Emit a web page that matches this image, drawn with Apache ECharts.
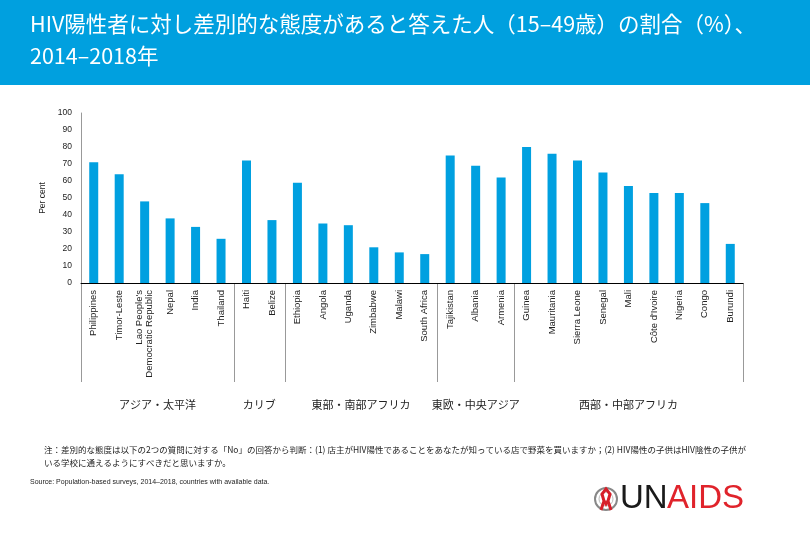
<!DOCTYPE html>
<html>
<head>
<meta charset="utf-8">
<script src="https://cdn.jsdelivr.net/npm/echarts@6/dist/echarts.min.js"></script>
<style>
html,body{margin:0;padding:0;background:#fff;}
#chart{width:810px;height:540px;}
</style>
</head>
<body>
<div id="chart"></div>
<script>
var categories = ["Philippines","Timor-Leste","Lao People's\nDemocratic Republic","Nepal","India","Thailand",
  "Haiti","Belize",
  "Ethiopia","Angola","Uganda","Zimbabwe","Malawi","South Africa",
  "Tajikistan","Albania","Armenia",
  "Guinea","Mauritania","Sierra Leone","Senegal","Mali","Côte d'Ivoire","Nigeria","Congo","Burundi"];
var values = [71,64,48,38,33,26, 72,37, 59,35,34,21,18,17, 75,69,62, 80,76,72,65,57,53,53,47,23];
var groupNames = ["アジア・太平洋","カリブ","東部・南部アフリカ","東欧・中央アジア","西部・中部アフリカ"];
var groupBounds = [0,6,8,14,17,26];
var yTicks = [0,10,20,30,40,50,60,70,80,90,100];

var titleLine1 = "HIV陽性者に対し差別的な態度があると答えた人（15–49歳）の割合（%）、";
var titleLine2 = "2014–2018年";
var note1 = "注：差別的な態度は以下の2つの質問に対する「No」の回答から判断：(1) 店主がHIV陽性であることをあなたが知っている店で野菜を買いますか；(2) HIV陽性の子供はHIV陰性の子供が";
var note2 = "いる学校に通えるようにすべきだと思いますか。";
var source = "Source: Population-based surveys, 2014–2018, countries with available data.";

var chart = echarts.init(document.getElementById('chart'), null, {renderer:'canvas'});
var baseFont = "'Liberation Sans', Arial, sans-serif";
var cjkFont = "'Noto Sans CJK JP', sans-serif";

chart.setOption({
  animation: false,
  backgroundColor: '#ffffff',
  grid: {left: 81, right: 67, top: 113, bottom: 257, containLabel: false},
  xAxis: {
    type: 'category',
    data: categories,
    axisLine: {show: true, lineStyle: {color: '#000', width: 1}},
    axisTick: {show: false},
    axisLabel: {rotate: 90, interval: 0, fontSize: 9.5, color: '#222', fontFamily: baseFont, margin: 7, lineHeight: 10}
  },
  yAxis: {
    type: 'value',
    min: yTicks[0], max: yTicks[yTicks.length-1], interval: 10,
    name: 'Per cent',
    nameLocation: 'middle',
    nameGap: 27,
    nameRotate: 90,
    nameTextStyle: {fontSize: 8.5, color: '#222', fontFamily: baseFont},
    axisLine: {show: true, lineStyle: {color: '#999', width: 1}},
    axisTick: {show: false},
    splitLine: {show: false},
    axisLabel: {fontSize: 8.5, color: '#222', fontFamily: baseFont, margin: 9}
  },
  series: [{
    type: 'bar',
    data: values,
    barWidth: 9,
    itemStyle: {color: '#00A0E0'}
  }]
});

// decorations positioned through the library's scales
var c0 = chart.convertToPixel({xAxisIndex: 0}, categories[0]);
var c1 = chart.convertToPixel({xAxisIndex: 0}, categories[1]);
var band = c1 - c0;
var y0 = chart.convertToPixel({yAxisIndex: 0}, 0);
function bx(b){ return c0 + (b - 0.5) * band; }

var g = [];
g.push({type:'rect', z:-1, shape:{x:0,y:0,width:810,height:85}, style:{fill:'#00A0DF'}, silent:true});
g.push({type:'text', x:30, y:13, style:{text:titleLine1, fill:'#fff', font:"21.5px " + cjkFont}});
g.push({type:'text', x:30, y:45, style:{text:titleLine2, fill:'#fff', font:"21.5px " + cjkFont}});

for (var i = 0; i < groupBounds.length; i++) {
  var x = Math.round(bx(groupBounds[i])) + 0.5;
  g.push({type:'line', shape:{x1:x, y1:y0, x2:x, y2:y0+99}, style:{stroke:'#999', lineWidth:1}});
}
for (var j = 0; j < groupNames.length; j++) {
  var cx = (bx(groupBounds[j]) + bx(groupBounds[j+1])) / 2;
  g.push({type:'text', x:cx, y:y0+122, style:{text:groupNames[j], fill:'#222', font:"11px " + cjkFont, align:'center', verticalAlign:'middle'}});
}
g.push({type:'text', x:44, y:446, style:{text:note1, fill:'#222', font:"8.5px " + cjkFont}});
g.push({type:'text', x:44, y:459, style:{text:note2, fill:'#222', font:"8.5px " + cjkFont}});
g.push({type:'text', x:30, y:479, style:{text:source, fill:'#222', font:"7px " + baseFont}});

// UNAIDS logo
g.push({type:'circle', shape:{cx:606, cy:499, r:11}, style:{fill:'none', stroke:'#888', lineWidth:2}});
g.push({type:'circle', shape:{cx:606, cy:499, r:7}, style:{fill:'none', stroke:'#bbb', lineWidth:1}});
g.push({type:'polyline', shape:{points:[[601,510],[604,501],[602,494],[606,489],[610,494],[608,501],[611,510]]}, style:{stroke:'#D71F2A', lineWidth:3, fill:'none'}});
g.push({type:'polyline', shape:{points:[[604,501],[606,504],[608,501]]}, style:{stroke:'#D71F2A', lineWidth:3, fill:'none'}});
g.push({type:'text', x:620, y:499, style:{text:'UN', fill:'#1a1a1a', font:"33px " + baseFont, verticalAlign:'middle'}});
g.push({type:'text', x:667, y:499, style:{text:'AIDS', fill:'#E0232B', font:"33px " + baseFont, verticalAlign:'middle'}});

chart.setOption({graphic: g});
</script>
</body>
</html>
